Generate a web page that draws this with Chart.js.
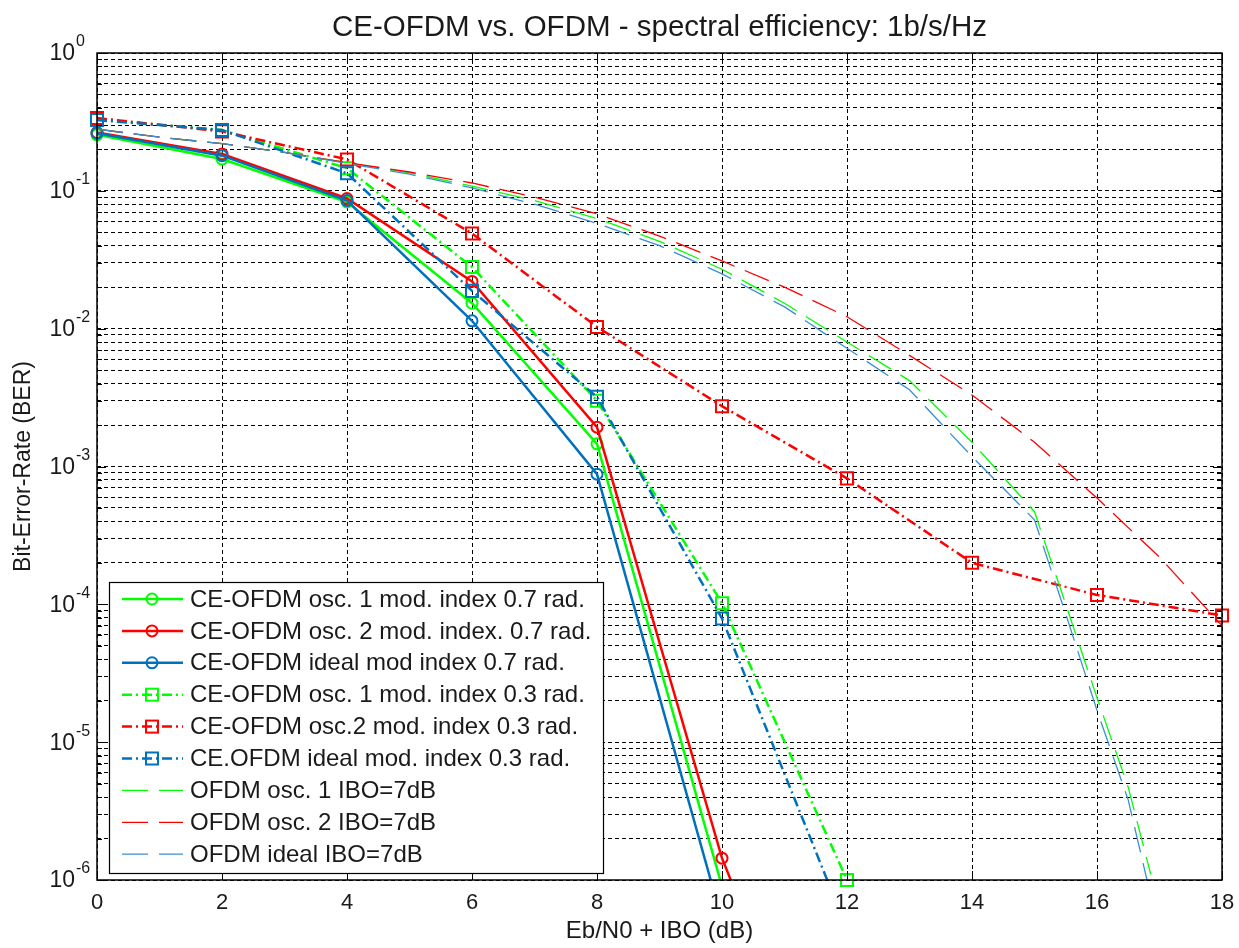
<!DOCTYPE html>
<html>
<head>
<meta charset="utf-8">
<title>CE-OFDM vs. OFDM - spectral efficiency</title>
<script src="https://cdn.jsdelivr.net/npm/chart.js@4.4.1/dist/chart.umd.min.js"></script>
<style>
  html, body { margin: 0; padding: 0; background: #fff; }
  #wrap { width: 1239px; height: 948px; }
</style>
</head>
<body>
<div id="wrap"><canvas id="ber" width="1239" height="948"></canvas></div>
<script>
// ------------- DATA -------------
// CE-OFDM, modulation index 0.7 rad (solid, circles)
const xOsc1_07 = [0, 2, 4, 6, 8, 10];
const berOsc1_07 = [0.255, 0.170, 0.083, 0.0153, 0.00146, 9.0e-7];
const xOsc2_07 = [0, 2, 4, 6, 8, 10, 12];
const berOsc2_07 = [0.265, 0.185, 0.088, 0.022, 0.00193, 1.44e-6, 8e-9];
const xIdeal_07 = [0, 2, 4, 6, 8, 10];
const berIdeal_07 = [0.262, 0.180, 0.085, 0.0114, 8.8e-4, 5.1e-7];

// CE-OFDM, modulation index 0.3 rad (dash-dot, squares)
const xOsc1_03 = [0, 2, 4, 6, 8, 10, 12];
const berOsc1_03 = [0.33, 0.276, 0.146, 0.028, 0.0030, 1.02e-4, 1.0e-6];
const xOsc2_03 = [0, 2, 4, 6, 8, 10, 12, 14, 16, 18];
const berOsc2_03 = [0.337, 0.27, 0.169, 0.049, 0.0103, 0.00274, 8.2e-4, 2.0e-4, 1.17e-4, 8.3e-5];
const xIdeal_03 = [0, 2, 4, 6, 8, 10, 12];
const berIdeal_03 = [0.326, 0.276, 0.134, 0.0188, 0.0032, 7.9e-5, 4.4e-7];

// OFDM, IBO = 7 dB (thin dashed)
const xOfdmOsc1 = [0, 1, 2, 3, 4, 5, 6, 7, 8, 9, 10, 11, 12, 13, 14, 15, 15.5, 16, 16.5, 16.86];
const berOfdmOsc1 = [0.28, 0.245, 0.22, 0.19, 0.16, 0.135, 0.108, 0.085, 0.063, 0.043, 0.027, 0.0153, 0.0080, 0.0042, 0.0015, 4.7e-4, 1.0e-4, 2.1e-5, 4.7e-6, 1.1e-6];
const xOfdmOsc2 = [0, 1, 2, 3, 4, 5, 6, 7, 8, 9, 10, 11, 12, 13, 14, 15, 16, 17, 18];
const berOfdmOsc2 = [0.28, 0.245, 0.22, 0.19, 0.16, 0.137, 0.114, 0.09, 0.068, 0.047, 0.031, 0.020, 0.0122, 0.0064, 0.0033, 0.0015, 5.9e-4, 2.2e-4, 7e-5];
const xOfdmIdeal = [0, 1, 2, 3, 4, 5, 6, 7, 8, 9, 10, 11, 12, 13, 14, 15, 15.5, 16, 16.5, 16.8];
const berOfdmIdeal = [0.28, 0.245, 0.22, 0.19, 0.158, 0.132, 0.105, 0.08, 0.058, 0.040, 0.025, 0.0144, 0.0072, 0.0036, 0.00118, 4.1e-4, 8.5e-5, 1.7e-5, 3.8e-6, 1.0e-6];

const seriesLabels = [
  'CE-OFDM osc. 1 mod. index 0.7 rad.',
  'CE-OFDM osc. 2 mod. index. 0.7 rad.',
  'CE-OFDM ideal mod index 0.7 rad.',
  'CE-OFDM osc. 1 mod. index 0.3 rad.',
  'CE-OFDM osc.2 mod. index 0.3 rad.',
  'CE.OFDM ideal mod. index 0.3 rad.',
  'OFDM osc. 1 IBO=7dB',
  'OFDM osc. 2 IBO=7dB',
  'OFDM ideal IBO=7dB'
];

// axis ticks
const xTicks = [0, 2, 4, 6, 8, 10, 12, 14, 16, 18];
const yDecades = [-6, -5, -4, -3, -2, -1, 0];
const yMinorSteps = [1, 2, 3, 4, 5, 6, 7, 8, 9];

// ------------- STYLE -------------
const FONT = "'Liberation Sans', Arial, Helvetica, sans-serif";
const TXT = '#1a1a1a';
const GREEN = '#00ff00', RED = '#ff0000', BLUE = '#0072bd', LBLUE = '#3b8fd2';
const DASHDOT = [10, 4, 2, 4];
const DASHED = [26, 11];

Chart.defaults.font.family = FONT;
Chart.defaults.color = TXT;

function pts(xs, ys){ return xs.map((x, i) => ({ x: x, y: ys[i] })); }

function ceSet(label, xs, ys, color, dash, style, clipBottom){
  return {
    label, data: pts(xs, ys),
    borderColor: color, borderWidth: 2.5, borderDash: dash,
    pointStyle: style, pointRadius: style === 'rect' ? 8.5 : 5.5,
    pointBorderColor: color, pointBorderWidth: 2,
    pointBackgroundColor: 'rgba(0,0,0,0)',
    fill: false, tension: 0,
    clip: { left: 10, top: 10, right: 10, bottom: clipBottom || 0 }
  };
}
function ofdmSet(label, xs, ys, color){
  return {
    label, data: pts(xs, ys),
    borderColor: color, borderWidth: 1.3, borderDash: DASHED,
    pointRadius: 0, fill: false, tension: 0
  };
}

const datasets = [
  ceSet(seriesLabels[0], xOsc1_07, berOsc1_07, GREEN, [], 'circle'),
  ceSet(seriesLabels[1], xOsc2_07, berOsc2_07, RED, [], 'circle'),
  ceSet(seriesLabels[2], xIdeal_07, berIdeal_07, BLUE, [], 'circle'),
  ceSet(seriesLabels[3], xOsc1_03, berOsc1_03, GREEN, DASHDOT, 'rect', 10),
  ceSet(seriesLabels[4], xOsc2_03, berOsc2_03, RED, DASHDOT, 'rect'),
  ceSet(seriesLabels[5], xIdeal_03, berIdeal_03, BLUE, DASHDOT, 'rect'),
  ofdmSet(seriesLabels[6], xOfdmOsc1, berOfdmOsc1, GREEN),
  ofdmSet(seriesLabels[7], xOfdmOsc2, berOfdmOsc2, RED),
  ofdmSet(seriesLabels[8], xOfdmIdeal, berOfdmIdeal, LBLUE)
];
// later series on top, like the original plot
datasets.forEach((d, i) => { d.order = -i; });

// all y grid values (1..9 x 10^k) for the dotted log grid
const yGridValues = [];
yDecades.forEach(k => {
  if (k === 0) { yGridValues.push(1); return; }
  yMinorSteps.forEach(m => yGridValues.push(parseFloat((m * Math.pow(10, k)).toPrecision(3))));
});

// frame, inner tick marks, 10^k labels and the boxed legend
const framePlugin = {
  id: 'frame',
  afterDatasetsDraw(chart){
    const { ctx, chartArea: a, scales: { x, y } } = chart;
    ctx.save();
    ctx.setLineDash([]);
    ctx.strokeStyle = '#000';
    ctx.lineWidth = 1;
    const seg = (x1, y1, x2, y2) => { ctx.beginPath(); ctx.moveTo(x1, y1); ctx.lineTo(x2, y2); ctx.stroke(); };

    xTicks.forEach(v => {
      const px = Math.round(x.getPixelForValue(v)) + 0.5;
      seg(px, a.bottom, px, a.bottom - 9);
      seg(px, a.top, px, a.top + 9);
    });
    yGridValues.forEach(v => {
      const py = Math.round(y.getPixelForValue(v)) + 0.5;
      const major = Math.abs(Math.log10(v) - Math.round(Math.log10(v))) < 1e-9;
      const len = major ? 9 : 5;
      seg(a.left, py, a.left + len, py);
      seg(a.right, py, a.right - len, py);
    });

    ctx.lineWidth = 1.5;
    ctx.strokeRect(a.left, a.top, a.right - a.left, a.bottom - a.top);

    // y tick labels 10^k
    ctx.fillStyle = TXT;
    ctx.textBaseline = 'middle';
    yDecades.forEach(k => {
      const py = y.getPixelForValue(Math.pow(10, k));
      ctx.font = '23px ' + FONT;
      ctx.textAlign = 'right';
      ctx.fillText('10', 75, py + 1);
      ctx.font = '16px ' + FONT;
      ctx.textAlign = 'left';
      ctx.fillText(String(k), 76, py - 11);
    });

    // legend
    const L = { left: 109, top: 582, right: 603, bottom: 873 };
    ctx.fillStyle = '#fff';
    ctx.fillRect(L.left, L.top, L.right - L.left, L.bottom - L.top);
    ctx.lineWidth = 1.2;
    ctx.strokeStyle = '#000';
    ctx.strokeRect(L.left + 0.5, L.top + 0.5, L.right - L.left, L.bottom - L.top);
    chart.data.datasets.forEach((ds, i) => {
      const ry = 599 + i * 31.9;
      ctx.strokeStyle = ds.borderColor;
      ctx.lineWidth = ds.borderWidth;
      ctx.setLineDash(ds.borderDash || []);
      seg(122, ry, 183, ry);
      ctx.setLineDash([]);
      if (ds.pointRadius > 0) {
        ctx.lineWidth = 2;
        if (ds.pointStyle === 'rect') {
          const s = ds.pointRadius * Math.SQRT1_2;
          ctx.strokeRect(152 - s, ry - s, 2 * s, 2 * s);
        } else {
          ctx.beginPath(); ctx.arc(152, ry, ds.pointRadius, 0, Math.PI * 2); ctx.stroke();
        }
      }
      ctx.fillStyle = TXT;
      ctx.font = '24px ' + FONT;
      ctx.textAlign = 'left';
      ctx.textBaseline = 'middle';
      ctx.fillText(ds.label, 190, ry + 1);
    });
    ctx.restore();
  }
};

new Chart(document.getElementById('ber'), {
  type: 'line',
  data: { datasets },
  options: {
    responsive: false,
    animation: false,
    layout: { padding: { left: 0, right: 17, top: 0, bottom: 0 } },
    plugins: {
      legend: { display: false },
      tooltip: { enabled: false },
      title: {
        display: true, fullSize: false,
        text: 'CE-OFDM vs. OFDM - spectral efficiency: 1b/s/Hz',
        color: TXT, font: { size: 29.5, weight: 'normal' },
        padding: { top: 10, bottom: 7.6 }
      }
    },
    scales: {
      x: {
        type: 'linear', min: 0, max: 18,
        afterBuildTicks: s => { s.ticks = xTicks.map(v => ({ value: v })); },
        afterFit: s => { s.height = 68; s.paddingLeft = 0; s.paddingRight = 0; },
        ticks: { color: TXT, font: { size: 22 }, padding: 10, autoSkip: false, maxRotation: 0, callback: v => String(v) },
        grid: { color: '#000', lineWidth: 1, drawTicks: false },
        border: { display: false, dash: [4, 3] },
        title: { display: true, text: 'Eb/N0 + IBO (dB)', color: TXT, font: { size: 24 }, padding: { top: 0, bottom: 2 } }
      },
      y: {
        type: 'logarithmic', min: 1e-6, max: 1,
        afterBuildTicks: s => { s.ticks = yGridValues.map(v => ({ value: v })); },
        afterFit: s => { s.width = 97; s.paddingTop = 0; s.paddingBottom = 0; },
        ticks: { display: false, autoSkip: false },
        grid: { color: '#000', lineWidth: 1, drawTicks: false },
        border: { display: false, dash: [4, 3] },
        title: { display: true, text: 'Bit-Error-Rate (BER)', color: TXT, font: { size: 23 }, padding: { top: 10, bottom: 0 } }
      }
    }
  },
  plugins: [framePlugin]
});
</script>
</body>
</html>
